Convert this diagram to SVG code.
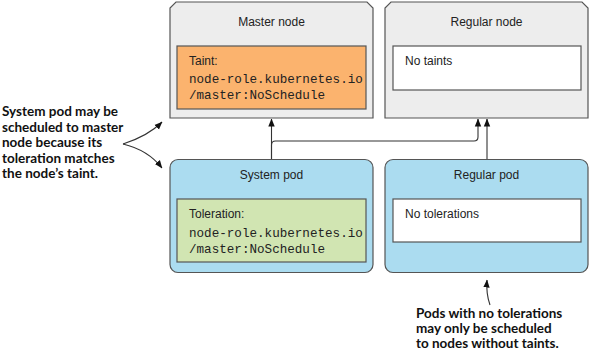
<svg xmlns="http://www.w3.org/2000/svg" width="590" height="352" viewBox="0 0 590 352">
<defs>
<marker id="ah" viewBox="0 0 8 8" refX="7.5" refY="4" markerWidth="8" markerHeight="8" markerUnits="userSpaceOnUse" orient="auto">
<path d="M0,0.8 L8,4 L0,7.2 Z" fill="#111"/>
</marker>
<style>
.node{fill:#ededed;stroke:#555;stroke-width:1.2}
.pod{fill:#abdcf0;stroke:#555;stroke-width:1.2}
.inner{stroke:#555;stroke-width:1.2}
.title{font-family:"Liberation Sans",Arial,sans-serif;font-size:12px;fill:#222;text-anchor:middle}
.lbl{font-family:"Liberation Sans",Arial,sans-serif;font-size:12px;fill:#222}
.mono{font-family:"Liberation Mono","Courier New",monospace;font-size:12.6px;fill:#222}
.note{font-family:Lato,"Open Sans",sans-serif;font-weight:bold;font-size:13.5px;fill:#111}
.conn{fill:none;stroke:#333;stroke-width:1.1}
</style>
</defs>
<g id="master-node">
<path class="node" d="M170,118 V8 L176,2 H367 L373,8 V118 Z"/>
<text class="title" x="271.5" y="26">Master node</text>
<rect class="inner" x="177" y="46" width="189" height="63" fill="#fbb36e"/>
<text class="lbl" x="189" y="65">Taint:</text>
<text class="mono" x="189" y="83">node-role.kubernetes.io</text>
<text class="mono" x="189" y="99">/master:NoSchedule</text>
</g>
<g id="regular-node">
<path class="node" d="M385,118 V8 L391,2 H582 L588,8 V118 Z"/>
<text class="title" x="486.5" y="26">Regular node</text>
<rect class="inner" x="393" y="46" width="188" height="44" fill="#fff"/>
<text class="lbl" x="405" y="65">No taints</text>
</g>
<g id="system-pod">
<rect class="pod" x="170" y="159.5" width="203" height="113" rx="8"/>
<text class="title" x="271.5" y="179">System pod</text>
<rect class="inner" x="177" y="199" width="189" height="63" fill="#d1e5b2"/>
<text class="lbl" x="189" y="218">Toleration:</text>
<text class="mono" x="189" y="237">node-role.kubernetes.io</text>
<text class="mono" x="189" y="253">/master:NoSchedule</text>
</g>
<g id="regular-pod">
<rect class="pod" x="385" y="159.5" width="203" height="113" rx="8"/>
<text class="title" x="486.5" y="179">Regular pod</text>
<rect class="inner" x="393" y="199" width="188" height="43" fill="#fff"/>
<text class="lbl" x="405" y="218">No tolerations</text>
</g>
<g id="connectors">
<path class="conn" d="M271.5,159 V119" marker-end="url(#ah)"/>
<path class="conn" d="M271.5,159 V145 Q271.5,141 275.5,141 H474 Q478,141 478,137 V119" marker-end="url(#ah)"/>
<path class="conn" d="M487,159 V119" marker-end="url(#ah)"/>
<path class="conn" d="M123,144 Q148,136 162,122" marker-end="url(#ah)"/>
<path class="conn" d="M123,144 Q148,150 162,168" marker-end="url(#ah)"/>
<path class="conn" d="M490,305 Q486,294 487,280" marker-end="url(#ah)"/>
</g>
<g id="notes">
<text class="note" x="2" y="116">System pod may be</text>
<text class="note" x="2" y="131.5">scheduled to master</text>
<text class="note" x="2" y="147">node because its</text>
<text class="note" x="2" y="162.5">toleration matches</text>
<text class="note" x="2" y="178">the node’s taint.</text>
<text class="note" x="416" y="318">Pods with no tolerations</text>
<text class="note" x="416" y="333">may only be scheduled</text>
<text class="note" x="416" y="348">to nodes without taints.</text>
</g>
</svg>
